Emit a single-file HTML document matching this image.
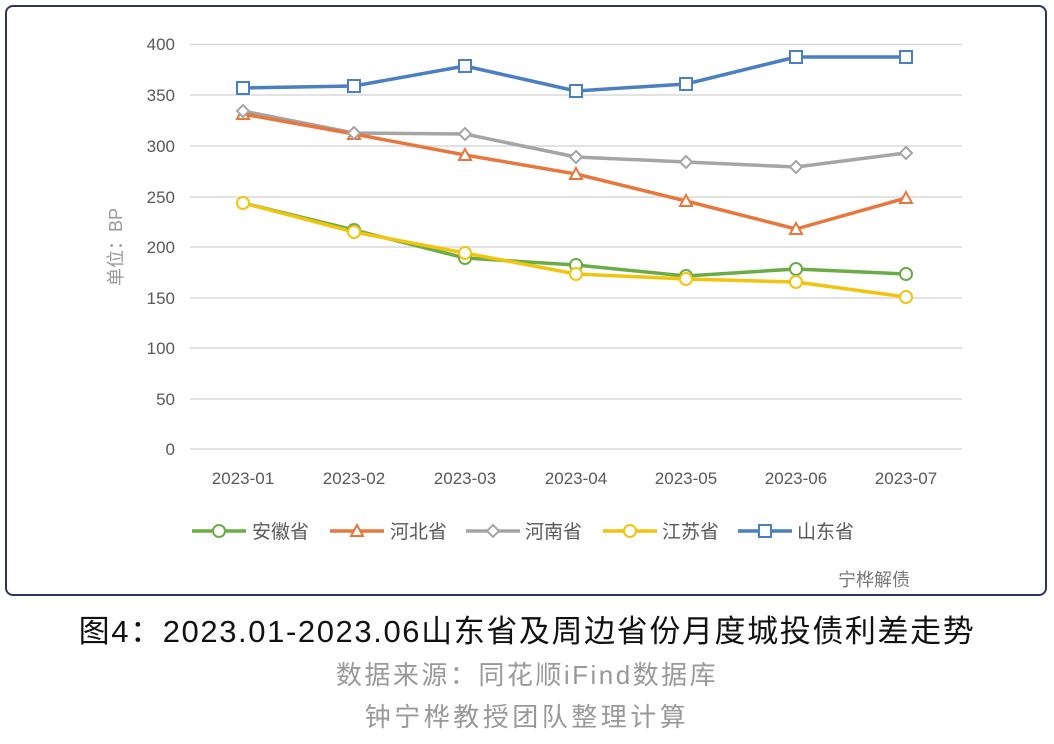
<!DOCTYPE html>
<html><head><meta charset="utf-8"><style>
body{margin:0;width:1054px;height:744px;background:#fff;overflow:hidden;font-family:"Liberation Sans","Noto Sans CJK SC",sans-serif}
.box{position:absolute;left:5px;top:5px;width:1042px;height:591px;border:2px solid #2c3566;border-radius:8px;box-sizing:border-box}
.t{position:absolute;left:0;width:1054px;text-align:center;white-space:nowrap}
</style></head><body>
<div class="box"></div>
<svg width="1054" height="600" style="position:absolute;left:0;top:0" font-family="Liberation Sans, Noto Sans CJK SC, sans-serif">
<g stroke="#d9d9d9" stroke-width="1.5">
<line x1="190" x2="962" y1="44.5" y2="44.5"/><line x1="190" x2="962" y1="95" y2="95"/><line x1="190" x2="962" y1="146" y2="146"/><line x1="190" x2="962" y1="197" y2="197"/><line x1="190" x2="962" y1="247" y2="247"/><line x1="190" x2="962" y1="298" y2="298"/><line x1="190" x2="962" y1="348" y2="348"/><line x1="190" x2="962" y1="399" y2="399"/><line x1="190" x2="962" y1="449" y2="449"/>
</g>
<g fill="#595959" font-size="17" text-anchor="end">
<text x="175" y="50">400</text><text x="175" y="101">350</text><text x="175" y="152">300</text><text x="175" y="203">250</text><text x="175" y="253">200</text><text x="175" y="304">150</text><text x="175" y="354">100</text><text x="175" y="405">50</text><text x="175" y="455">0</text>
</g>
<g fill="#595959" font-size="17" text-anchor="middle">
<text x="243" y="484">2023-01</text><text x="354" y="484">2023-02</text><text x="465" y="484">2023-03</text><text x="576" y="484">2023-04</text><text x="686" y="484">2023-05</text><text x="796" y="484">2023-06</text><text x="906" y="484">2023-07</text>
</g>
<text transform="translate(122,247) rotate(-90)" fill="#999" font-size="18" text-anchor="middle">单位：BP</text>
<g fill="none" stroke-width="3.5" stroke-linejoin="round">
<polyline stroke="#4a7fc1" points="243,88 354,86 465,66 576,91 686,84 796,57 906,57"/>
<polyline stroke="#a5a5a5" points="243,111 354,133 465,134 576,157 686,162 796,167 906,153"/>
<polyline stroke="#e7773d" points="243,114 354,134 465,155 576,174 686,201 796,229 906,198"/>
<polyline stroke="#6aac46" points="243,203 354,230 465,258 576,265 686,276 796,269 906,274"/>
<polyline stroke="#f2c40f" points="243,203 354,232 465,253 576,274 686,279 796,282 906,297"/>
</g>
<g fill="#fff" stroke-width="2">
<g stroke="#4a7fc1"><rect x="237" y="82" width="12" height="12"/><rect x="348" y="80" width="12" height="12"/><rect x="459" y="60" width="12" height="12"/><rect x="570" y="85" width="12" height="12"/><rect x="680" y="78" width="12" height="12"/><rect x="790" y="51" width="12" height="12"/><rect x="900" y="51" width="12" height="12"/></g>
<g stroke="#e7773d"><path d="M243,108l6,11h-12z M354,128l6,11h-12z M465,149l6,11h-12z M576,168l6,11h-12z M686,195l6,11h-12z M796,223l6,11h-12z M906,192l6,11h-12z"/></g>
<g stroke="#a5a5a5"><path d="M243,105l6,6-6,6-6-6z M354,127l6,6-6,6-6-6z M465,128l6,6-6,6-6-6z M576,151l6,6-6,6-6-6z M686,156l6,6-6,6-6-6z M796,161l6,6-6,6-6-6z M906,147l6,6-6,6-6-6z"/></g>
<g stroke="#6aac46"><circle cx="354" cy="230" r="6"/><circle cx="465" cy="258" r="6"/><circle cx="576" cy="265" r="6"/><circle cx="686" cy="276" r="6"/><circle cx="796" cy="269" r="6"/><circle cx="906" cy="274" r="6"/></g>
<g stroke="#f2c40f"><circle cx="243" cy="203" r="6"/><circle cx="354" cy="232" r="6"/><circle cx="465" cy="253" r="6"/><circle cx="576" cy="274" r="6"/><circle cx="686" cy="279" r="6"/><circle cx="796" cy="282" r="6"/><circle cx="906" cy="297" r="6"/></g>
</g>
<g font-size="19" fill="#595959">
<line x1="192" x2="246" y1="531" y2="531" stroke="#6aac46" stroke-width="3.5"/><circle cx="219" cy="531" r="6" fill="#fff" stroke="#6aac46" stroke-width="2"/><text x="252" y="538">安徽省</text>
<line x1="330" x2="384" y1="531" y2="531" stroke="#e7773d" stroke-width="3.5"/><path d="M357,525l6,11h-12z" fill="#fff" stroke="#e7773d" stroke-width="2"/><text x="390" y="538">河北省</text>
<line x1="466" x2="520" y1="531" y2="531" stroke="#a5a5a5" stroke-width="3.5"/><path d="M493,525l6,6-6,6-6-6z" fill="#fff" stroke="#a5a5a5" stroke-width="2"/><text x="525" y="538">河南省</text>
<line x1="603" x2="657" y1="531" y2="531" stroke="#f2c40f" stroke-width="3.5"/><circle cx="630" cy="531" r="6" fill="#fff" stroke="#f2c40f" stroke-width="2"/><text x="662" y="538">江苏省</text>
<line x1="738" x2="792" y1="531" y2="531" stroke="#4a7fc1" stroke-width="3.5"/><rect x="759" y="525" width="12" height="12" fill="#fff" stroke="#4a7fc1" stroke-width="2"/><text x="797" y="538">山东省</text>
</g>
<text x="838" y="586" font-size="18" fill="#777">宁桦解债</text>
</svg>
<div class="t" style="top:606px;font-size:31px;letter-spacing:1.6px;color:#111">图4：2023.01-2023.06山东省及周边省份月度城投债利差走势</div>
<div class="t" style="top:655px;font-size:26px;letter-spacing:2.5px;color:#999">数据来源：同花顺iFind数据库</div>
<div class="t" style="top:697px;font-size:26px;letter-spacing:3.5px;color:#999">钟宁桦教授团队整理计算</div>
</body></html>
